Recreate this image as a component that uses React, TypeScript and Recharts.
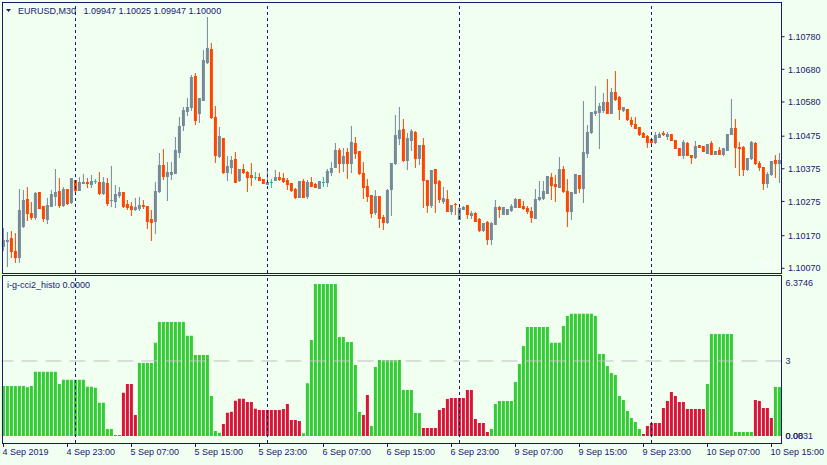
import { Bar, ComposedChart, ReferenceLine, XAxis, YAxis } from "recharts"

const BG = "#F0FFF0"
const INK = "#191970"
const FONT = '"Liberation Sans", Arial, sans-serif'
const BULL = "#778899"
const BEAR = "#FF4500"
const DOJI = "#20B2AA"
const UP = "#32CD32"
const DOWN = "#DC143C"

/* ---------- data: EURUSD M30, 4 Sep 15:00 .. 10 Sep 16:00 ---------- */
const opens = [
  1.10138, 1.10155, 1.10164, 1.10123, 1.10106, 1.102, 1.10282, 1.10239, 1.10228, 1.10304,
  1.10261, 1.10221, 1.10262, 1.10292, 1.10307, 1.10264, 1.10313, 1.10274, 1.10341, 1.1031,
  1.10333, 1.10335, 1.10328, 1.10338, 1.10335, 1.10302, 1.10331, 1.10278, 1.10277, 1.10295,
  1.10304, 1.10267, 1.10261, 1.10252, 1.10255, 1.10263, 1.10261, 1.1022, 1.10216, 1.10307,
  1.10387, 1.10354, 1.10359, 1.10363, 1.10428, 1.10509, 1.10553, 1.10565, 1.1066, 1.10547,
  1.10586, 1.10703, 1.10741, 1.10534, 1.10414, 1.10469, 1.10366, 1.10382, 1.10404, 1.10341,
  1.10374, 1.10366, 1.10356, 1.10349, 1.10349, 1.10343, 1.10328, 1.10335, 1.10341, 1.10349,
  1.10346, 1.10341, 1.10331, 1.10313, 1.1029, 1.10338, 1.10292, 1.10336, 1.10328, 1.10317,
  1.10334, 1.10336, 1.10366, 1.10382, 1.10433, 1.10392, 1.10427, 1.10392, 1.10453, 1.1043,
  1.10362, 1.10322, 1.10295, 1.10242, 1.10292, 1.10228, 1.10212, 1.10312, 1.10392, 1.1047,
  1.10497, 1.10402, 1.10463, 1.10488, 1.10409, 1.10448, 1.10341, 1.10264, 1.10374, 1.10338,
  1.10276, 1.10282, 1.10246, 1.10267, 1.10221, 1.10252, 1.10264, 1.10233, 1.10239, 1.10221,
  1.10187, 1.10213, 1.1016, 1.10206, 1.10257, 1.10236, 1.10236, 1.10249, 1.10259, 1.10282,
  1.10262, 1.10256, 1.10246, 1.10223, 1.10282, 1.10286, 1.10302, 1.10351, 1.10328, 1.1032,
  1.10374, 1.10307, 1.10247, 1.10302, 1.10356, 1.10317, 1.10424, 1.10489, 1.10545, 1.1055,
  1.10555, 1.10581, 1.10547, 1.1061, 1.10596, 1.10555, 1.10558, 1.10525, 1.10512, 1.10502,
  1.10484, 1.10476, 1.10466, 1.10458, 1.10473, 1.10486, 1.10476, 1.10482, 1.10463, 1.1044,
  1.10417, 1.10455, 1.10417, 1.10412, 1.10448, 1.10445, 1.10423, 1.10453, 1.1042, 1.10433,
  1.1042, 1.10433, 1.10482, 1.10501, 1.10443, 1.10443, 1.10374, 1.10407, 1.10455, 1.10394,
  1.1038, 1.10332, 1.10359, 1.10402, 1.10392,
]
const highs = [
  1.10194, 1.10181, 1.10184, 1.10178, 1.10313, 1.1031, 1.10318, 1.10274, 1.10305, 1.10305,
  1.10262, 1.10285, 1.1031, 1.10374, 1.10346, 1.1032, 1.10314, 1.10347, 1.10342, 1.10349,
  1.10358, 1.10348, 1.10356, 1.10343, 1.10366, 1.10351, 1.10346, 1.10384, 1.10324, 1.1032,
  1.10305, 1.10279, 1.10274, 1.10285, 1.1029, 1.10279, 1.10262, 1.10249, 1.10336, 1.10423,
  1.10436, 1.10397, 1.10397, 1.10473, 1.10535, 1.10565, 1.10592, 1.10663, 1.10668, 1.10592,
  1.10739, 1.10841, 1.1076, 1.10568, 1.10504, 1.1047, 1.10414, 1.10414, 1.10426, 1.10374,
  1.1039, 1.10367, 1.10392, 1.10364, 1.10361, 1.10344, 1.10374, 1.10343, 1.10371, 1.10366,
  1.10361, 1.10346, 1.10332, 1.10315, 1.10338, 1.10344, 1.10341, 1.10349, 1.10332, 1.10338,
  1.10351, 1.10374, 1.10395, 1.10453, 1.10438, 1.10438, 1.10438, 1.10506, 1.10473, 1.1043,
  1.10397, 1.10344, 1.10295, 1.1031, 1.10292, 1.10233, 1.10313, 1.10394, 1.1054, 1.10564,
  1.10528, 1.10484, 1.10496, 1.10491, 1.10449, 1.1047, 1.10341, 1.10372, 1.10375, 1.10341,
  1.1032, 1.1031, 1.10265, 1.10271, 1.10267, 1.10262, 1.10265, 1.10247, 1.10242, 1.10225,
  1.1021, 1.10214, 1.10213, 1.10279, 1.10262, 1.10259, 1.10252, 1.10267, 1.10286, 1.10283,
  1.10276, 1.10262, 1.10259, 1.10313, 1.10338, 1.10338, 1.10354, 1.10361, 1.10356, 1.10412,
  1.10385, 1.10344, 1.10305, 1.1036, 1.10357, 1.10583, 1.10509, 1.1055, 1.10629, 1.10576,
  1.10607, 1.1065, 1.10622, 1.10675, 1.10597, 1.10565, 1.10559, 1.10535, 1.10533, 1.10503,
  1.10487, 1.10479, 1.10466, 1.10489, 1.10489, 1.10491, 1.10488, 1.10483, 1.10464, 1.1044,
  1.10463, 1.10456, 1.10418, 1.1046, 1.10449, 1.10446, 1.10452, 1.1046, 1.1043, 1.10441,
  1.1044, 1.10483, 1.10589, 1.10527, 1.10458, 1.10444, 1.10408, 1.10459, 1.10456, 1.10399,
  1.1038, 1.10364, 1.104, 1.10417, 1.10424,
]
const lows = [
  1.10126, 1.10078, 1.10106, 1.1009, 1.1009, 1.10197, 1.10218, 1.1022, 1.1022, 1.10254,
  1.10216, 1.1021, 1.1026, 1.10264, 1.10259, 1.10261, 1.10267, 1.10269, 1.10305, 1.10309,
  1.10331, 1.1032, 1.1032, 1.10331, 1.10298, 1.10298, 1.10264, 1.10262, 1.10257, 1.1029,
  1.10257, 1.10252, 1.10233, 1.10249, 1.10249, 1.10254, 1.10194, 1.10157, 1.10177, 1.10305,
  1.10343, 1.10279, 1.10343, 1.10362, 1.10412, 1.10494, 1.1054, 1.10555, 1.10512, 1.10519,
  1.10585, 1.10698, 1.1053, 1.10397, 1.10412, 1.10361, 1.10341, 1.10361, 1.10334, 1.10339,
  1.10361, 1.10307, 1.10325, 1.10343, 1.1034, 1.10331, 1.10327, 1.1032, 1.1034, 1.10341,
  1.10335, 1.10313, 1.10308, 1.10286, 1.10289, 1.10289, 1.10286, 1.10323, 1.10318, 1.10317,
  1.10323, 1.10323, 1.10356, 1.10381, 1.10366, 1.10369, 1.10348, 1.10366, 1.10407, 1.10358,
  1.10286, 1.10276, 1.10228, 1.10236, 1.10198, 1.10191, 1.1021, 1.10233, 1.1039, 1.10451,
  1.10399, 1.10375, 1.10433, 1.10381, 1.10389, 1.10259, 1.10244, 1.10257, 1.10244, 1.10274,
  1.10269, 1.10245, 1.10236, 1.10236, 1.1022, 1.10251, 1.10223, 1.10225, 1.10215, 1.10185,
  1.10185, 1.10145, 1.10145, 1.10205, 1.10228, 1.10235, 1.10235, 1.10247, 1.10258, 1.10258,
  1.10252, 1.10239, 1.10213, 1.10223, 1.10279, 1.10282, 1.103, 1.10282, 1.10276, 1.1032,
  1.10305, 1.10201, 1.10221, 1.103, 1.10303, 1.10272, 1.10412, 1.10484, 1.1054, 1.10438,
  1.1055, 1.10546, 1.10546, 1.10587, 1.10527, 1.10553, 1.10526, 1.10506, 1.10499, 1.10479,
  1.10473, 1.10443, 1.10453, 1.10455, 1.10473, 1.10479, 1.10466, 1.10463, 1.10439, 1.10416,
  1.10408, 1.10417, 1.10394, 1.10408, 1.10442, 1.1043, 1.10422, 1.1042, 1.1042, 1.1042,
  1.10416, 1.10432, 1.10481, 1.10382, 1.10356, 1.10356, 1.10371, 1.10406, 1.10391, 1.10371,
  1.10313, 1.1032, 1.10356, 1.10351, 1.10336,
]
const closes = [
  1.10157, 1.10157, 1.10124, 1.10104, 1.10249, 1.10279, 1.10239, 1.10228, 1.103, 1.10256,
  1.10223, 1.10264, 1.10298, 1.10304, 1.10264, 1.10313, 1.10269, 1.10346, 1.1031, 1.10335,
  1.10334, 1.10332, 1.10339, 1.10338, 1.10302, 1.10335, 1.10271, 1.1028, 1.10298, 1.10304,
  1.10261, 1.10257, 1.10251, 1.10259, 1.10265, 1.10261, 1.10216, 1.10213, 1.10307, 1.10387,
  1.10353, 1.10366, 1.10365, 1.10433, 1.10506, 1.10555, 1.10565, 1.10657, 1.10525, 1.10591,
  1.10709, 1.10744, 1.10533, 1.10417, 1.10476, 1.10366, 1.10384, 1.10402, 1.10336, 1.10374,
  1.10366, 1.10349, 1.10349, 1.10349, 1.10341, 1.10332, 1.10336, 1.10335, 1.10349, 1.10344,
  1.10338, 1.10328, 1.1031, 1.1029, 1.10338, 1.1029, 1.10336, 1.10323, 1.1032, 1.10338,
  1.10334, 1.10368, 1.10378, 1.10433, 1.10392, 1.10414, 1.10392, 1.10458, 1.10424, 1.10363,
  1.1032, 1.10292, 1.10241, 1.10292, 1.10225, 1.10211, 1.1031, 1.10394, 1.10479, 1.10494,
  1.10402, 1.1047, 1.10491, 1.10409, 1.10448, 1.10341, 1.10264, 1.10371, 1.10332, 1.10283,
  1.10286, 1.10246, 1.10264, 1.10266, 1.10254, 1.10259, 1.10237, 1.10241, 1.10216, 1.10187,
  1.1021, 1.1016, 1.1021, 1.10259, 1.10251, 1.10259, 1.10252, 1.10262, 1.10282, 1.10259,
  1.10254, 1.10247, 1.10226, 1.10282, 1.1029, 1.10307, 1.10354, 1.10325, 1.10323, 1.10374,
  1.10307, 1.10247, 1.10305, 1.10359, 1.10317, 1.10427, 1.10487, 1.10548, 1.10552, 1.10568,
  1.10581, 1.10547, 1.1061, 1.10588, 1.10558, 1.10564, 1.10527, 1.10512, 1.10499, 1.10482,
  1.10473, 1.10458, 1.10458, 1.10479, 1.10481, 1.10481, 1.10481, 1.10463, 1.1044, 1.10417,
  1.10458, 1.10417, 1.10412, 1.10445, 1.10443, 1.10431, 1.10451, 1.1042, 1.1043, 1.1042,
  1.10438, 1.10482, 1.10501, 1.10443, 1.10438, 1.10374, 1.10407, 1.10458, 1.10392, 1.1038,
  1.10332, 1.10359, 1.10399, 1.10392, 1.10402,
]

// i-g-cci2_histo: sign gives the colour (green up, red down)
const histo = [
  2.0, 2.0, 2.0, 2.0, 2.0, 2.0, 1.95, 2.0, 2.57, 2.57,
  2.57, 2.57, 2.57, 2.57, 2.08, 2.25, 2.25, 2.25, 2.25, 2.25,
  2.25, 1.97, 1.97, 1.93, 1.33, 1.33, 0.28, 0.28, -0.03, -0.03,
  -1.73, -2.08, -2.08, -0.84, 2.92, 2.92, 2.92, 2.92, 3.73, 4.56,
  4.56, 4.56, 4.56, 4.56, 4.56, 4.56, 4.01, 4.01, 3.24, 3.24,
  3.24, 3.24, 1.6, 0.2, 0.13, -0.48, -0.93, -0.97, -1.41, -1.49,
  -1.49, -1.36, -1.36, -1.09, -1.04, -1.04, -1.04, -1.04, -1.04, -1.04,
  -1.08, -1.28, -0.64, -0.64, -0.6, 0.11, 2.11, 3.84, 6.08, 6.08,
  6.08, 6.08, 6.08, 6.08, 3.96, 3.96, 3.76, 3.76, 2.84, 0.96,
  -0.84, -1.64, 0.4, 2.76, 3.04, 3.04, 3.04, 3.04, 3.04, 3.04,
  1.84, 1.84, 1.84, 0.92, 0.92, -0.32, -0.32, -0.32, -0.32, -1.04,
  -1.12, -1.48, -1.52, -1.52, -1.52, -1.52, -1.84, -1.84, -0.68, -0.52,
  -0.52, -0.16, 0.28, 1.28, 1.4, 1.4, 1.4, 1.4, 2.16, 2.88,
  3.6, 4.36, 4.36, 4.36, 4.36, 4.36, 4.36, 3.73, 3.73, 3.73,
  4.4, 4.8, 4.89, 4.89, 4.89, 4.89, 4.89, 4.89, 4.8, 3.28,
  3.28, 2.8, 2.52, 2.44, 1.6, 1.44, 1.0, 0.72, 0.56, 0.28,
  -0.08, -0.4, -0.52, -0.52, -0.52, -1.12, -1.4, -1.76, -1.6, -1.36,
  -1.36, -1.08, -1.08, -1.08, -1.08, -1.08, 2.08, 4.08, 4.08, 4.08,
  4.08, 4.08, 4.08, 0.16, 0.16, 0.16, 0.16, 0.16, -1.44, -1.4,
  -1.12, -1.12, -0.72, 1.96, 1.96,
]
const histoLevel = 3
const histoMax = 6.3746
const histoMinLabel = "0.0831"

const priceTicks = [1.1007, 1.1017, 1.10275, 1.10375, 1.10475, 1.1058, 1.1068, 1.1078]
const priceDomain = [1.100556, 1.108833]

const timeTickIdx = [0, 16, 32, 48, 64, 80, 96, 112, 128, 144, 160, 176, 192]
const timeTickText = [
  "4 Sep 2019", "4 Sep 23:00", "5 Sep 07:00", "5 Sep 15:00", "5 Sep 23:00", "6 Sep 07:00",
  "6 Sep 15:00", "6 Sep 23:00", "9 Sep 07:00", "9 Sep 15:00", "9 Sep 23:00", "10 Sep 07:00",
  "10 Sep 15:00",
]
const daySeparators = [18, 66, 114, 162]

const candles = opens.map((o, i) => ({ i, o, h: highs[i], l: lows[i], c: closes[i] }))
const histoRows = histo.map((v, i) => ({ i, v: Math.abs(v), neg: v < 0 }))
const xDomain = [-0.5, opens.length - 0.5]

/* ---------- shapes ---------- */
function Candle(props: any) {
  const { x, y, width, height, payload } = props
  const { o, h, l, c } = payload
  const cx = x + width / 2
  const top = Math.min(y, y + height)
  const span = Math.abs(height)
  const k = h > l ? span / (h - l) : 0
  const py = (p: number) => top + (h - p) * k
  const color = c > o ? BULL : c < o ? BEAR : DOJI
  const b0 = Math.round(py(Math.max(o, c)))
  const b1 = Math.round(py(Math.min(o, c)))
  return (
    <g>
      <line x1={cx} x2={cx} y1={Math.round(top)} y2={Math.round(top + span) + 1} stroke={color} strokeWidth={1} />
      <rect x={cx - 1.5} y={b0} width={3} height={Math.max(1, b1 - b0 + 1)} fill={color} />
    </g>
  )
}

function HistoBar(props: any) {
  const { x, y, width, height, payload } = props
  const cx = x + width / 2
  const top = Math.min(y, y + height)
  return <rect x={cx - 1.5} y={top} width={3} height={Math.abs(height)} fill={payload.neg ? DOWN : UP} />
}

function TimeTick(props: any) {
  const { x, y, payload } = props
  const k = timeTickIdx.indexOf(payload.value)
  return (
    <text x={x - 1} y={y} dy="0.71em" fontSize={9} fill={INK} fontFamily={FONT}>
      {k >= 0 ? timeTickText[k] : ""}
    </text>
  )
}

function HistoTick(props: any) {
  const { x, y, payload } = props
  const v = payload.value
  const common = { x, dy: "0.355em", fontSize: 9, fill: INK, fontFamily: FONT }
  if (v === 0)
    return (
      <g>
        <text {...common} y={y}>0.00</text>
        <text {...common} y={y}>{histoMinLabel}</text>
      </g>
    )
  if (v === histoMax)
    return (
      <text {...common} y={y + 6}>
        {histoMax.toFixed(4)}
      </text>
    )
  return (
    <text {...common} y={y}>
      {v}
    </text>
  )
}

/* ---------- panels ---------- */
function PricePanel() {
  return (
    <ComposedChart width={827} height={465} data={candles} margin={{ top: 3, right: 0, bottom: 192, left: 1.5 }}>
      <XAxis dataKey="i" type="number" domain={xDomain} hide />
      <YAxis
        orientation="right"
        width={45.5}
        domain={priceDomain}
        allowDataOverflow
        ticks={priceTicks}
        interval={0}
        axisLine={false}
        tickSize={3}
        tickMargin={3.5}
        tickLine={{ stroke: INK }}
        tick={{ fontSize: 9, fill: INK, fontFamily: FONT }}
        tickFormatter={(v: number) => v.toFixed(5)}
      />
      {daySeparators.map((s) => (
        <ReferenceLine key={s} x={s} stroke={INK} strokeDasharray="3 3" />
      ))}
      <Bar dataKey={(d: any) => [d.l, d.h]} shape={(p: any) => <Candle {...p} />} isAnimationActive={false} />
    </ComposedChart>
  )
}

function HistoPanel() {
  return (
    <ComposedChart width={827} height={465} data={histoRows} margin={{ top: 276.6, right: 0, bottom: 0, left: 1.5 }}>
      <XAxis
        dataKey="i"
        type="number"
        domain={xDomain}
        ticks={timeTickIdx}
        interval={0}
        height={22}
        axisLine={false}
        tickSize={4}
        tickMargin={2}
        tickLine={{ stroke: INK }}
        tick={(p: any) => <TimeTick {...p} />}
      />
      <YAxis
        orientation="right"
        width={45.5}
        domain={[-0.28, histoMax]}
        allowDataOverflow
        ticks={[0, histoLevel, histoMax]}
        interval={0}
        axisLine={false}
        tickLine={false}
        tickSize={0}
        tickMargin={4}
        tick={(p: any) => <HistoTick {...p} />}
      />
      <ReferenceLine y={histoLevel} stroke="#C0C0C0" strokeDasharray="16 8" />
      {daySeparators.map((s) => (
        <ReferenceLine key={s} x={s} stroke={INK} strokeDasharray="3 3" />
      ))}
      <Bar dataKey="v" shape={(p: any) => <HistoBar {...p} />} isAnimationActive={false} />
    </ComposedChart>
  )
}

export default function App() {
  const layer = { position: "absolute" as const, left: 0, top: 0 }
  return (
    <div style={{ position: "absolute", left: 0, top: 0, width: 827, height: 465, background: BG, overflow: "hidden" }}>
      <div style={layer}>
        <PricePanel />
      </div>
      <div style={layer}>
        <HistoPanel />
      </div>
      <svg width={827} height={465} style={{ ...layer, pointerEvents: "none" }}>
        <rect x={2.5} y={2.5} width={779} height={271} fill="none" stroke={INK} />
        <rect x={2.5} y={275.5} width={779} height={168} fill="none" stroke={INK} />
        <polygon points="6,9 11,9 8.5,12" fill={INK} />
        <text x={18} y={14} fontSize={9} fill={INK} fontFamily={FONT}>EURUSD,M30</text>
        <text x={83.5} y={14} fontSize={9} fill={INK} fontFamily={FONT}>1.09947 1.10025 1.09947 1.10000</text>
        <text x={7} y={287.5} fontSize={9} fill={INK} fontFamily={FONT}>i-g-cci2_histo 0.0000</text>
        <text x={757} y={267} fontSize={11} fill="#FFFFFF" fontFamily={FONT}>Text</text>
      </svg>
    </div>
  )
}
